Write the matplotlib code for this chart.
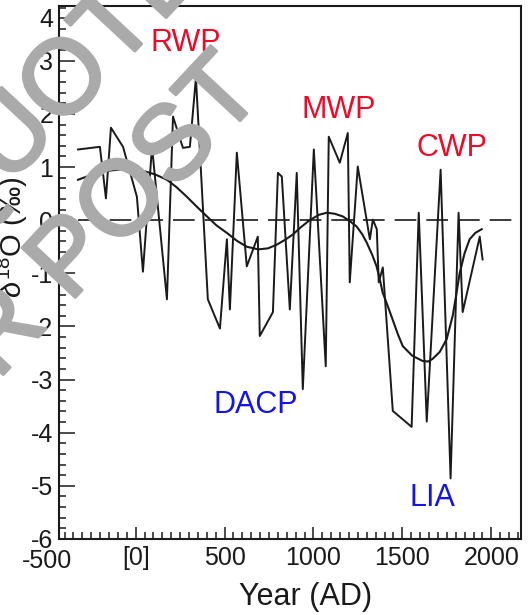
import numpy as np
import matplotlib
matplotlib.use("Agg")
import matplotlib.pyplot as plt
import matplotlib.patheffects as pe
from matplotlib.ticker import MultipleLocator, FixedLocator, FixedFormatter
import matplotlib.transforms as mtransforms

plt.rcParams['font.family'] = ['Liberation Sans', 'DejaVu Sans']
plt.rcParams['mathtext.fontset'] = 'custom'
plt.rcParams['mathtext.rm'] = 'Liberation Sans'
plt.rcParams['mathtext.it'] = 'Liberation Sans:italic'

# raw d18O record (year AD, permil)
years = [-324, -201, -167, -139, -71, 7, 41, 92, 176, 210, 266, 305, 339, 406, 474,
         513, 530, 569, 625, 687, 698, 772, 800, 822, 867, 906, 940, 1002, 1069, 1086,
         1148, 1193, 1204, 1249, 1317, 1334, 1356, 1367, 1390, 1446, 1552, 1592, 1637,
         1715, 1771, 1816, 1839, 1935, 1951]
d18o = [1.33, 1.38, 0.41, 1.74, 1.38, 0.44, -0.97, 1.38, -1.49, 1.95, 1.36, 1.38, 2.68,
        -1.49, -2.04, -0.36, -1.68, 1.27, -0.87, -0.31, -2.18, -1.73, 0.89, 0.82, -1.68,
        0.89, -3.18, 1.33, -2.75, 1.57, 1.08, 1.64, -1.17, 1.01, -0.36, 0.01, -0.17,
        -1.17, -0.89, -3.59, -3.89, 0.14, -3.79, 0.95, -4.86, 0.14, -1.73, -0.31, -0.74]

# smoothed curve
smooth_years = [-324, -250, -180, -100, -15, 50, 110, 176, 230, 288, 345, 401, 455, 513,
                570, 625, 690, 745, 794, 840, 884, 930, 979, 1030, 1075, 1120, 1165, 1205,
                1243, 1275, 1299, 1330, 1355, 1372, 1389, 1418, 1446, 1475, 1502, 1555,
                1614, 1645, 1670, 1710, 1749, 1783, 1803, 1822, 1850, 1878, 1910, 1946]
smooth_vals = [0.76, 0.85, 0.92, 0.95, 0.95, 0.92, 0.86, 0.76, 0.62, 0.44, 0.25, 0.07,
               -0.10, -0.24, -0.39, -0.50, -0.55, -0.53, -0.46, -0.37, -0.27, -0.13, 0.0,
               0.10, 0.14, 0.12, 0.07, -0.02, -0.12, -0.27, -0.42, -0.65, -0.87, -1.10,
               -1.36, -1.62, -1.88, -2.15, -2.37, -2.55, -2.65, -2.66, -2.61, -2.48, -2.24,
               -1.80, -1.40, -1.00, -0.62, -0.36, -0.24, -0.17]

# period labels
periods = ['RWP', 'MWP', 'CWP', 'DACP', 'LIA']
period_x = [283, 1139, 1780, 678, 1670]
period_y = [3.34, 2.08, 1.35, -3.48, -5.22]
period_col = ['#ee0a28', '#ee0a28', '#ee0a28', '#1414e6', '#1414e6']

xtick_vals = [0, 500, 1000, 1500, 2000]
xtick_labels = ['[0]', '500', '1000', '1500', '2000']
ytick_vals = [-6, -5, -4, -3, -2, -1, 0, 1, 2, 3]

W, H = 529, 615
fig = plt.figure(figsize=(W / 100, H / 100), dpi=100)
ax = fig.add_axes([59 / W, 1 - 539 / H, (521 - 59) / W, (539 - 6) / H])

ax.plot(years, d18o, color='#1a1a1a', lw=1.4, zorder=3)
ax.plot(smooth_years, smooth_vals, color='#1a1a1a', lw=1.5, zorder=3)
ax.plot([-324, 2170], [0, 0], color='#1a1a1a', lw=1.2, dashes=(13, 6), zorder=2)

for name, px, py, c in zip(periods, period_x, period_y, period_col):
    ax.text(px, py, name, color=c, fontsize=22, ha='center', va='center', zorder=4)

ax.set_xlim(-431, 2167)
ax.set_ylim(-6, 4.03)
ax.xaxis.set_major_locator(FixedLocator(xtick_vals))
ax.xaxis.set_major_formatter(FixedFormatter(xtick_labels))
ax.xaxis.set_minor_locator(MultipleLocator(50))
ax.yaxis.set_major_locator(FixedLocator(ytick_vals))
ax.yaxis.set_major_formatter(FixedFormatter([str(v) for v in ytick_vals]))
ax.yaxis.set_minor_locator(MultipleLocator(0.2))

ax.tick_params(axis='both', which='both', direction='in', top=False, right=False,
               labelsize=18, width=1.1, colors='#1a1a1a')
ax.tick_params(axis='x', which='major', length=9, pad=5)
ax.tick_params(axis='x', which='minor', length=5)
ax.tick_params(axis='y', which='major', length=11.5, pad=4)
ax.tick_params(axis='y', which='minor', length=5)
for s in ax.spines.values():
    s.set_linewidth(1.5)
    s.set_color('#1a1a1a')

# labels that sit outside the plotted range: -500 on x, 4 on y
xtrans = mtransforms.blended_transform_factory(ax.transData, ax.transAxes)
ax.text(-500, 0, '-500', fontsize=18, ha='center', va='top', clip_on=False,
        color='#1a1a1a',
        transform=xtrans + mtransforms.ScaledTranslation(0, -7 / 72, fig.dpi_scale_trans))
ytrans = mtransforms.blended_transform_factory(ax.transAxes, ax.transData)
ax.text(0, 3.77, '4', fontsize=18, ha='right', va='center', clip_on=False,
        color='#1a1a1a',
        transform=ytrans + mtransforms.ScaledTranslation(-4 / 72, 0, fig.dpi_scale_trans))

fig.text(306 / W, 1 - 597 / H, 'Year (AD)', fontsize=22, ha='center', va='center',
         color='#1a1a1a')
fig.text(12 / W, 1 - 237 / H, r'$\delta^{18}$O (‰)', fontsize=21, rotation=90,
         ha='center', va='center', color='#1a1a1a')

# watermark
wm_fx = [pe.withStroke(linewidth=2.2, foreground='#aaaaaa')]
fig.text(60 / W, 1 - 91 / H, 'QUOTE', fontsize=76, rotation=47, rotation_mode='anchor',
         ha='center', va='center', color='#aaaaaa', zorder=10, path_effects=wm_fx)
fig.text(245 / W, 1 - 75 / H, 'OR POST', fontsize=76, rotation=47, rotation_mode='anchor',
         ha='right', va='center', color='#aaaaaa', zorder=10, path_effects=wm_fx)

fig.savefig('out.png', dpi=100)
